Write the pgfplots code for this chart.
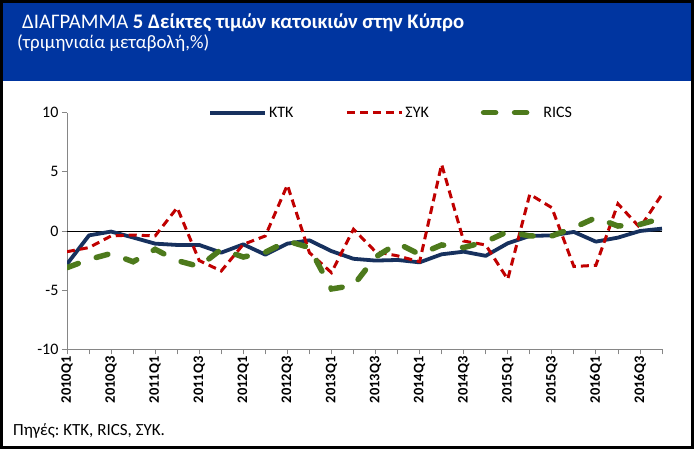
\documentclass[border=0pt]{standalone}
\usepackage{fontspec}
\setmainfont{Carlito}
\usepackage{pgfplots}
\pgfplotsset{compat=1.18}
\definecolor{band}{HTML}{0035A0}
\definecolor{ktk}{HTML}{17315E}
\definecolor{syk}{HTML}{C00000}
\definecolor{rics}{HTML}{4D7A1C}
\definecolor{axgray}{HTML}{868686}

\begin{document}
\frenchspacing
\begin{tikzpicture}
\useasboundingbox (0pt,0pt) rectangle (694pt,449pt);
\fill[white] (0pt,0pt) rectangle (694pt,449pt);
\fill[band] (0pt,368pt) rectangle (694pt,449pt);
\draw[black,line width=3pt] (1.5pt,1.5pt) rectangle (692.5pt,447.5pt);
\node[anchor=base west,inner sep=0pt,text=white,font=\fontsize{20.7}{23}\selectfont] at (22pt,420pt)
  {ΔΙΑΓΡΑΜΜΑ \textbf{5 Δείκτες τιμών κατοικιών στην Κύπρο}};
\node[anchor=base west,inner sep=0pt,text=white,font=\fontsize{18.9}{21}\selectfont] at (17pt,400pt)
  {(τριμηνιαία μεταβολή,\%)};
\node[anchor=base west,inner sep=0pt,font=\fontsize{17}{19}\selectfont] at (13pt,13pt)
  {Πηγές: ΚΤΚ, RICS, ΣΥΚ.};
\begin{axis}[
  at={(67pt,99.7pt)}, anchor=south west,
  width=595pt, height=236.6pt, scale only axis,
  xmin=0, xmax=27, ymin=-10, ymax=10,
  axis lines*=left, axis line style={-,draw=axgray,line width=0.8pt},
  tick style={draw=axgray,line width=0.8pt}, tick align=outside,
  major tick length=5pt,
  xtick={0,...,27},
  xticklabels={2010Q1,,2010Q3,,2011Q1,,2011Q3,,2012Q1,,2012Q3,,2013Q1,,2013Q3,,2014Q1,,2014Q3,,2015Q1,,2015Q3,,2016Q1,,2016Q3,},
  xticklabel style={rotate=90,anchor=east,font=\fontsize{14.5}{15}\selectfont\bfseries,inner sep=2pt},
  ytick={-10,-5,0,5,10}, yticklabels={-10,-5,0,5,10},
  yticklabel style={font=\fontsize{16}{18}\selectfont},
  legend columns=3,
  legend cell align=left,
  legend image code/.code={\draw[#1] (0pt,0pt) -- (55pt,0pt);},
  legend style={at={(0.237,1.0)}, anchor=west, draw=none, fill=none, inner sep=0pt,
    font=\fontsize{16}{18}\selectfont,
    /tikz/every even column/.append style={column sep=50pt}},
]
\addplot[black,line width=0.9pt,forget plot] coordinates {(0,0)(27,0)};
\addplot[ktk,line width=3.8pt,line join=round] coordinates {
(0,-2.8)(1,-0.37)(2,-0.05)(3,-0.55)(4,-1.07)(5,-1.18)(6,-1.18)(7,-1.83)
(8,-1.13)(9,-2.0)(10,-1.07)(11,-0.79)(12,-1.7)(13,-2.35)(14,-2.5)(15,-2.45)
(16,-2.65)(17,-1.97)(18,-1.75)(19,-2.1)(20,-1.04)(21,-0.42)(22,-0.37)(23,-0.08)
(24,-0.9)(25,-0.56)(26,0.0)(27,0.2)};
\addlegendentry{ΚΤΚ}
\addplot[syk,line width=3pt,dash pattern=on 8pt off 5pt] coordinates {
(0,-1.75)(1,-1.4)(2,-0.42)(3,-0.34)(4,-0.42)(5,1.97)(6,-2.5)(7,-3.38)
(8,-1.13)(9,-0.42)(10,3.89)(11,-1.83)(12,-3.52)(13,0.15)(14,-1.75)(15,-2.1)
(16,-2.6)(17,5.63)(18,-0.85)(19,-1.18)(20,-4.08)(21,3.1)(22,1.97)(23,-3.0)
(24,-2.9)(25,2.3)(26,0.28)(27,3.1)};
\addlegendentry{ΣΥΚ}
\addplot[rics,line width=5.5pt,line cap=round,dash pattern=on 12pt off 19pt] coordinates {
(0,-3.1)(1,-2.4)(2,-1.9)(3,-2.6)(4,-1.55)(5,-2.5)(6,-3.0)(7,-1.55)
(8,-2.2)(9,-1.8)(10,-0.85)(11,-1.4)(12,-4.9)(13,-4.6)(14,-2.2)(15,-1.04)
(16,-1.97)(17,-1.18)(18,-1.4)(19,-0.9)(20,-0.05)(21,-0.42)(22,-0.42)(23,0.28)
(24,1.13)(25,0.42)(26,0.56)(27,1.07)};
\addlegendentry{RICS}
\end{axis}
\end{tikzpicture}
\end{document}
